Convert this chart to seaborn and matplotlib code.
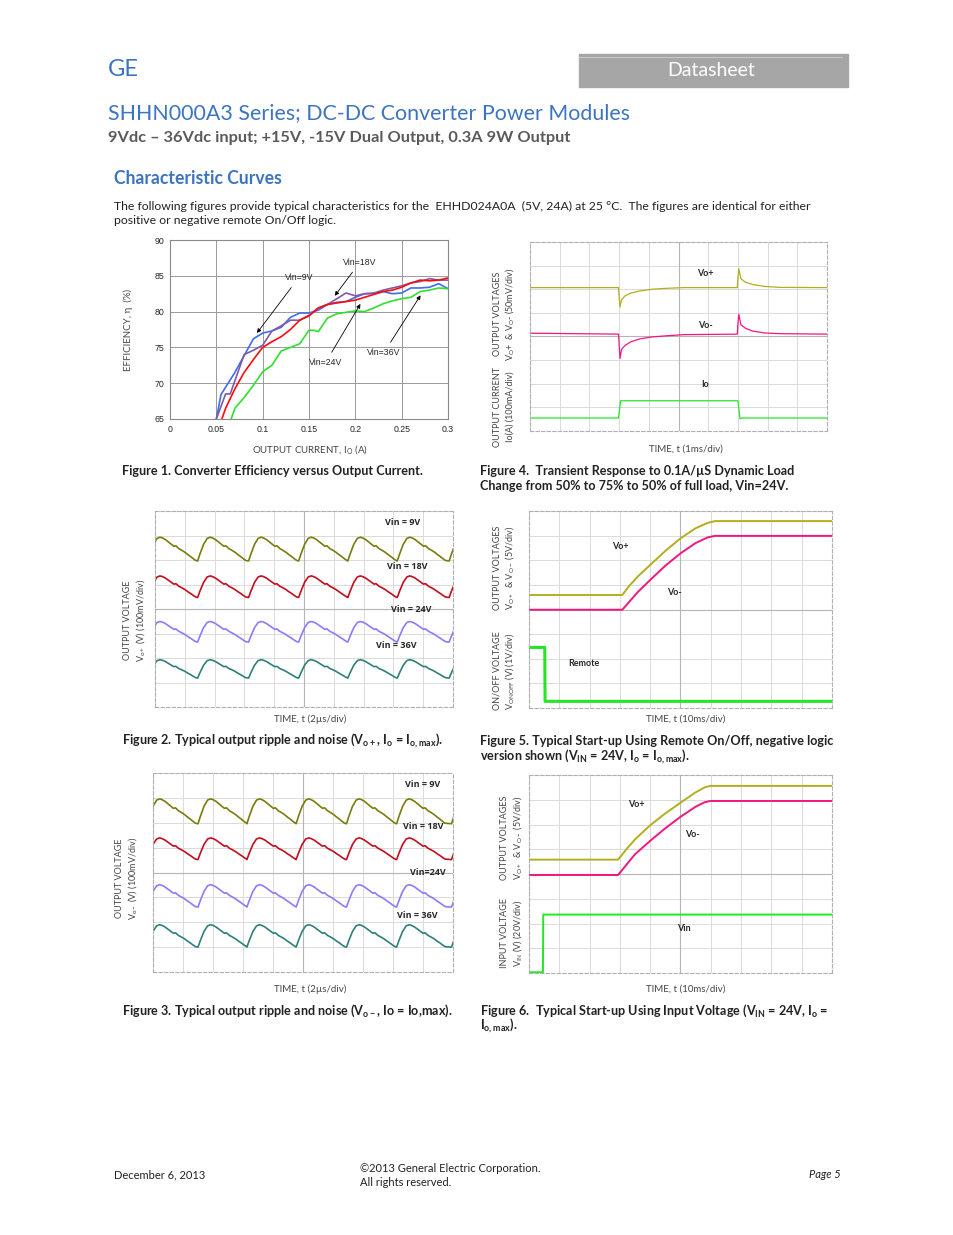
import numpy as np
import pandas as pd
import matplotlib
matplotlib.use('Agg')
import matplotlib.pyplot as plt
import matplotlib.patches as mpatches
import seaborn as sns

W, H = 954, 1235
sns.set_style('white')
plt.rcParams['font.family'] = ['Lato', 'DejaVu Sans']
plt.rcParams['mathtext.default'] = 'regular'

BLUE = '#3d74c0'
DARK = '#222222'
CAP = 9.1

# --- Figure 1: efficiency vs output current ---
eff_9v_x = [0.05, 0.055, 0.07, 0.09, 0.1, 0.11, 0.12, 0.13, 0.14, 0.15, 0.16, 0.17, 0.18, 0.19, 0.2,
            0.21, 0.22, 0.23, 0.24, 0.25, 0.26, 0.27, 0.28, 0.29, 0.3]
eff_9v_y = [65.0, 68.4, 71.5, 76.2, 77.0, 77.3, 77.8, 79.2, 79.8, 79.8, 80.2, 81.0, 81.3, 81.4, 82.0,
            82.5, 82.5, 82.8, 82.5, 82.6, 83.3, 83.3, 83.4, 83.9, 83.2]
eff_18v_x = [0.05, 0.06, 0.065, 0.08, 0.09, 0.1, 0.11, 0.12, 0.13, 0.14, 0.15, 0.16, 0.17, 0.18, 0.19,
             0.2, 0.21, 0.22, 0.23, 0.24, 0.25, 0.26, 0.27, 0.28, 0.29, 0.3]
eff_18v_y = [65.0, 68.5, 68.5, 74.0, 74.6, 75.3, 77.3, 78.0, 78.8, 78.8, 79.5, 80.5, 81.0, 81.8, 82.6,
             82.2, 82.5, 82.6, 83.0, 83.3, 83.6, 84.0, 84.2, 84.6, 84.4, 84.4]
eff_24v_x = [0.056, 0.06, 0.07, 0.08, 0.09, 0.1, 0.11, 0.12, 0.13, 0.14, 0.15, 0.16, 0.17, 0.18, 0.19,
             0.2, 0.21, 0.22, 0.23, 0.24, 0.25, 0.26, 0.27, 0.28, 0.29, 0.3]
eff_24v_y = [65.0, 66.5, 69.2, 71.5, 73.3, 75.0, 75.8, 76.5, 77.5, 78.8, 79.4, 80.5, 81.0, 81.2, 81.4,
             81.6, 82.0, 82.4, 82.8, 83.0, 83.4, 84.0, 84.4, 84.3, 84.4, 84.7]
eff_36v_x = [0.066, 0.07, 0.08, 0.09, 0.1, 0.11, 0.12, 0.13, 0.14, 0.15, 0.155, 0.16, 0.17, 0.18, 0.19,
             0.2, 0.21, 0.22, 0.23, 0.24, 0.25, 0.26, 0.27, 0.28, 0.29, 0.3]
eff_36v_y = [65.0, 66.5, 68.0, 69.7, 71.6, 72.5, 74.5, 75.0, 75.5, 77.4, 77.4, 77.2, 79.1, 79.7, 79.9,
             80.1, 80.0, 80.5, 81.1, 81.5, 81.8, 82.0, 82.8, 83.0, 83.3, 83.2]
eff_colors = {'9V': '#3f6cf0', '18V': '#7e5aa8', '24V': '#ff0a0a', '36V': '#2fe02f'}

# --- Figures 2/3: ripple traces (divisions) ---
ripple_tau = [0, 0.08, 0.2, 0.32, 0.42, 0.5, 0.6, 0.7, 0.8, 0.88, 0.95, 1.05, 1.15, 1.25, 1.35, 1.45, 1.55, 1.62]
ripple_amp = [0, 0.3, 0.7, 0.95, 1.0, 0.97, 0.9, 0.8, 0.7, 0.62, 0.64, 0.52, 0.45, 0.37, 0.27, 0.18, 0.08, 0.02]
ripple2_troughs = [-0.25, 1.43, 3.14, 4.82, 6.47, 8.13, 9.87]
ripple3_troughs = [-0.2, 1.5, 3.13, 4.77, 6.45, 8.12, 9.95]
ripple2_names = ['Vin = 9V', 'Vin = 18V', 'Vin = 24V', 'Vin = 36V']
ripple3_names = ['Vin = 9V', 'Vin = 18V', 'Vin=24V', 'Vin = 36V']
ripple_colors = ['#7b7b0c', '#c40d1c', '#8a7cff', '#2f7f7a']
ripple2_lo = [5.96, 4.47, 2.65, 1.18]
ripple2_hi = [6.93, 5.35, 3.49, 1.93]
ripple3_lo = [5.96, 4.52, 2.61, 1.00]
ripple3_hi = [6.96, 5.39, 3.51, 1.90]

# --- Figure 4: transient response ---
tr_t = [0, 2.98, 3.0, 3.03, 3.08, 3.2, 3.4, 3.7, 4.1, 4.6, 5.2, 6.98, 7.0, 7.03, 7.1, 7.25, 7.5, 7.9, 8.4, 10]
tr_vop = [6.07, 6.07, 5.7, 5.25, 5.55, 5.72, 5.84, 5.93, 6.0, 6.04, 6.07, 6.07, 6.5, 6.87, 6.45, 6.3, 6.2, 6.12, 6.08, 6.07]
tr_von = [4.14, 4.1, 3.7, 3.07, 3.45, 3.62, 3.78, 3.9, 3.98, 4.03, 4.08, 4.1, 4.55, 4.94, 4.5, 4.35, 4.23, 4.15, 4.12, 4.1]
tr_io_t = [0, 2.98, 3.05, 7.0, 7.07, 7.15, 10]
tr_io = [0.55, 0.55, 1.28, 1.28, 0.52, 0.55, 0.55]

# --- Figure 5: start-up via remote on/off ---
su5_t = [0, 3.08, 3.3, 3.6, 4.0, 4.5, 5.0, 5.5, 5.9, 6.14, 10]
su5_vop = [4.59, 4.59, 4.95, 5.35, 5.81, 6.38, 6.89, 7.3, 7.52, 7.59, 7.59]
su5_von = [3.99, 3.99, 4.3, 4.72, 5.2, 5.78, 6.28, 6.7, 6.93, 6.99, 6.99]
remote_t = [0, 0.52, 0.53, 10]
remote_v = [2.46, 2.46, 0.27, 0.27]

# --- Figure 6: start-up via input voltage ---
su6_t = [0, 2.94, 3.2, 3.5, 4.0, 4.5, 5.0, 5.5, 5.8, 5.98, 10]
su6_vop = [4.58, 4.58, 4.98, 5.4, 5.97, 6.45, 6.88, 7.3, 7.5, 7.56, 7.56]
su6_von = [3.96, 3.96, 4.35, 4.8, 5.34, 5.85, 6.31, 6.72, 6.9, 6.95, 6.95]
vin_t = [0, 0.46, 0.47, 10]
vin_v = [0.03, 0.03, 2.36, 2.36]

VOP = '#b3ae1c'
VON = '#f3167f'
GRN = '#25e625'

fig = plt.figure(figsize=(W / 100, H / 100), dpi=100)


def box(l, t, r, b):
    return fig.add_axes([l / W, 1 - b / H, (r - l) / W, (b - t) / H])


def txt(x, y, s, **kw):
    kw.setdefault('va', 'center')
    kw.setdefault('color', DARK)
    fig.text(x / W, 1 - y / H, s, **kw)


def scope(ax):
    ax.set_xlim(0, 10)
    ax.set_ylim(0, 8)
    ax.set_xticks(range(11))
    ax.set_yticks(range(9))
    ax.set_xticklabels([])
    ax.set_yticklabels([])
    ax.tick_params(length=0)
    ax.grid(True, color='#dadada', lw=0.7)
    ax.axvline(5, color='#b5b5b5', lw=0.8)
    ax.axhline(4, color='#b5b5b5', lw=0.8)
    ax.set_xlabel('')
    ax.set_ylabel('')
    for s in ax.spines.values():
        s.set_color('#b0b0b0')
        s.set_linewidth(0.8)
        s.set_linestyle((0, (3, 2)))


def trace(ax, x, y, color, lw=1.1):
    sns.lineplot(x=x, y=y, ax=ax, color=color, lw=lw, estimator=None, sort=False)


# ---------- header ----------
txt(108, 69, 'GE', fontsize=17, color=BLUE, ha='left')
fig.patches.append(mpatches.Rectangle((579 / W, 1 - 87 / H), 269 / W, 33 / H,
                                      transform=fig.transFigure, color='#a6a6a6'))
fig.lines.append(plt.Line2D([579 / W, 842 / W], [1 - 57 / H, 1 - 57 / H],
                            transform=fig.transFigure, color='#c8c8c8', lw=0.8))
txt(711, 70, 'Datasheet', fontsize=14, color='white', ha='center')
txt(108, 113, 'SHHN000A3 Series; DC-DC Converter Power Modules', fontsize=15.4, color=BLUE, ha='left')
txt(108, 138, '9Vdc \u2013 36Vdc input; +15V, -15V Dual Output, 0.3A 9W Output', fontsize=11.8,
    fontweight='bold', color='#5a5a5a', ha='left')
txt(114, 179, 'Characteristic Curves', fontsize=12.7, fontweight='bold', color=BLUE, ha='left')
txt(114, 206, 'The following figures provide typical characteristics for the  EHHD024A0A  (5V, 24A) at 25 \u00b0C.  '
    'The figures are identical for either', fontsize=8.8, ha='left')
txt(114, 221, 'positive or negative remote On/Off logic.', fontsize=8.8, ha='left')

# ---------- Figure 1 ----------
ax1 = box(170, 240, 448, 419)
eff = pd.concat([
    pd.DataFrame({'io': eff_9v_x, 'eff': eff_9v_y, 'vin': '9V'}),
    pd.DataFrame({'io': eff_18v_x, 'eff': eff_18v_y, 'vin': '18V'}),
    pd.DataFrame({'io': eff_24v_x, 'eff': eff_24v_y, 'vin': '24V'}),
    pd.DataFrame({'io': eff_36v_x, 'eff': eff_36v_y, 'vin': '36V'}),
])
sns.lineplot(data=eff, x='io', y='eff', hue='vin', palette=eff_colors, estimator=None, sort=False,
             lw=1.2, legend=False, ax=ax1)
ax1.set_xlim(0, 0.3)
ax1.set_ylim(65, 90)
ax1.set_xticks([0, 0.05, 0.1, 0.15, 0.2, 0.25, 0.3])
ax1.set_xticklabels(['0', '0.05', '0.1', '0.15', '0.2', '0.25', '0.3'])
ax1.set_yticks([65, 70, 75, 80, 85, 90])
ax1.grid(True, color='#9a9a9a', lw=0.7)
ax1.tick_params(length=0, labelsize=6.3, pad=4)
for lab in ax1.get_xticklabels() + ax1.get_yticklabels():
    lab.set_family('Liberation Sans')
for s in ax1.spines.values():
    s.set_color('#8a8a8a')
    s.set_linewidth(0.8)
ax1.set_xlabel('')
ax1.set_ylabel('')
arrow = dict(arrowstyle='-|>', color='black', lw=0.6, mutation_scale=6)
ann_font = dict(fontsize=6.3, family='Liberation Sans', ha='center', va='center')
ax1.annotate('Vin=9V', xy=(0.092, 76.7), xytext=(0.139, 84.75), arrowprops=arrow, **ann_font)
ax1.annotate('Vin=18V', xy=(0.176, 81.9), xytext=(0.205, 86.9), arrowprops=arrow, **ann_font)
ax1.annotate('Vin=24V', xy=(0.207, 81.4), xytext=(0.168, 72.9), arrowprops=arrow, **ann_font)
ax1.annotate('Vin=36V', xy=(0.272, 82.6), xytext=(0.231, 74.3), arrowprops=arrow, **ann_font)
txt(128, 330, 'EFFICIENCY, \u03b7  (%)', fontsize=7, rotation=90, ha='center', color='#444444')
txt(310, 449, 'OUTPUT CURRENT, I$_O$ (A)', fontsize=7, ha='center', color='#444444')
txt(122, 471, 'Figure 1. Converter Efficiency versus Output Current.', fontsize=CAP, fontweight='bold', ha='left')

# ---------- Figure 4 ----------
ax4 = box(530, 242, 827, 431)
scope(ax4)
trace(ax4, tr_t, tr_vop, VOP, 0.9)
trace(ax4, tr_t, tr_von, VON, 0.9)
trace(ax4, tr_io_t, tr_io, GRN, 0.9)
ax4.text(5.9, 6.65, 'Vo+', fontsize=6.5, fontweight='bold', ha='center', va='center')
ax4.text(5.9, 4.45, 'Vo-', fontsize=6.5, fontweight='bold', ha='center', va='center')
ax4.text(5.9, 1.95, 'Io', fontsize=6.5, fontweight='bold', ha='center', va='center')
txt(497, 314, 'OUTPUT VOLTAGES', fontsize=6.5, rotation=90, ha='center', color='#444444')
txt(510, 314, 'V$_{O}$+  & V$_{O}$- (50mV/div)', fontsize=6.5, rotation=90, ha='center', color='#444444')
txt(497, 407, 'OUTPUT CURRENT', fontsize=6.5, rotation=90, ha='center', color='#444444')
txt(510, 407, 'Io(A) (100mA/div)', fontsize=6.5, rotation=90, ha='center', color='#444444')
txt(686, 449, 'TIME, t (1ms/div)', fontsize=7, ha='center', color='#444444')
txt(480, 471, 'Figure 4.  Transient Response to 0.1A/\u00b5S Dynamic Load', fontsize=CAP, fontweight='bold', ha='left')
txt(480, 486, 'Change from 50% to 75% to 50% of full load, Vin=24V.', fontsize=CAP, fontweight='bold', ha='left')


# ---------- Figures 2 and 3 ----------
def ripple_panel(ax, troughs, los, his, names, label_pos):
    scope(ax)
    for k in range(4):
        xs, ys = [], []
        for t0 in troughs:
            for a, b in zip(ripple_tau, ripple_amp):
                xs.append(t0 + a)
                ys.append(los[k] + b * (his[k] - los[k]))
        trace(ax, xs, ys, ripple_colors[k], 1.2)
        ax.text(label_pos[k][0], label_pos[k][1], names[k], fontsize=6.5, fontweight='bold',
                ha='center', va='center', family=['Open Sans', 'DejaVu Sans'])


ax2 = box(155, 511, 453, 707)
ripple_panel(ax2, ripple2_troughs, ripple2_lo, ripple2_hi, ripple2_names,
             [(8.3, 7.55), (8.45, 5.75), (8.6, 3.98), (8.1, 2.5)])
txt(128, 620, 'OUTPUT VOLTAGE', fontsize=6.5, rotation=90, ha='center', color='#444444')
txt(141, 620, 'V$_{o+}$ (V) (100mV/div)', fontsize=6.5, rotation=90, ha='center', color='#444444')
txt(310, 719, 'TIME, t (2\u00b5s/div)', fontsize=7, ha='center', color='#444444')
txt(122, 741, 'Figure 2. Typical output ripple and noise (V$_{o+}$, I$_o$ = I$_{o,max}$).', fontsize=CAP,
    fontweight='bold', ha='left')

ax3 = box(153, 773, 453, 972)
ripple_panel(ax3, ripple3_troughs, ripple3_lo, ripple3_hi, ripple3_names,
             [(9.0, 7.52), (9.0, 5.85), (9.15, 3.98), (8.8, 2.28)])
txt(120, 878, 'OUTPUT VOLTAGE', fontsize=6.5, rotation=90, ha='center', color='#444444')
txt(133, 878, 'V$_{o-}$ (V) (100mV/div)', fontsize=6.5, rotation=90, ha='center', color='#444444')
txt(310, 989, 'TIME, t (2\u00b5s/div)', fontsize=7, ha='center', color='#444444')
txt(122, 1011, 'Figure 3. Typical output ripple and noise (V$_{o-}$, Io = Io,max).', fontsize=CAP,
    fontweight='bold', ha='left')

# ---------- Figure 5 ----------
ax5 = box(529, 511, 832, 708)
scope(ax5)
trace(ax5, su5_t, su5_vop, VOP, 1.4)
trace(ax5, su5_t, su5_von, VON, 1.4)
trace(ax5, remote_t, remote_v, GRN, 2.2)
ax5.text(3.0, 6.57, 'Vo+', fontsize=6.5, fontweight='bold', ha='center', va='center')
ax5.text(4.8, 4.7, 'Vo-', fontsize=6.5, fontweight='bold', ha='center', va='center')
ax5.text(1.8, 1.8, 'Remote', fontsize=6.5, fontweight='bold', ha='center', va='center')
txt(497, 568, 'OUTPUT VOLTAGES', fontsize=6.5, rotation=90, ha='center', color='#444444')
txt(510, 568, 'V$_{O+}$  & V$_{O-}$ (5V/div)', fontsize=6.5, rotation=90, ha='center', color='#444444')
txt(497, 671, 'ON/OFF VOLTAGE', fontsize=6.5, rotation=90, ha='center', color='#444444')
txt(510, 671, 'V$_{ONOFF}$ (V) (1V/div)', fontsize=6.5, rotation=90, ha='center', color='#444444')
txt(686, 719, 'TIME, t (10ms/div)', fontsize=7, ha='center', color='#444444')
txt(480, 741, 'Figure 5. Typical Start-up Using Remote On/Off, negative logic', fontsize=CAP, fontweight='bold', ha='left')
txt(480, 757, 'version shown (V$_{IN}$ = 24V, I$_o$ = I$_{o,max}$).', fontsize=CAP, fontweight='bold', ha='left')

# ---------- Figure 6 ----------
ax6 = box(529, 775, 832, 973)
scope(ax6)
trace(ax6, su6_t, su6_vop, VOP, 1.4)
trace(ax6, su6_t, su6_von, VON, 1.4)
trace(ax6, vin_t, vin_v, GRN, 1.4)
ax6.text(3.55, 6.8, 'Vo+', fontsize=6.5, fontweight='bold', ha='center', va='center')
ax6.text(5.4, 5.6, 'Vo-', fontsize=6.5, fontweight='bold', ha='center', va='center')
ax6.text(5.1, 1.8, 'Vin', fontsize=6.5, fontweight='bold', ha='center', va='center')
txt(505, 838, 'OUTPUT VOLTAGES', fontsize=6.5, rotation=90, ha='center', color='#444444')
txt(518, 838, 'V$_{O+}$  & V$_{O-}$ (5V/div)', fontsize=6.5, rotation=90, ha='center', color='#444444')
txt(505, 933, 'INPUT VOLTAGE', fontsize=6.5, rotation=90, ha='center', color='#444444')
txt(518, 933, 'V$_{IN}$ (V) (20V/div)', fontsize=6.5, rotation=90, ha='center', color='#444444')
txt(686, 989, 'TIME, t (10ms/div)', fontsize=7, ha='center', color='#444444')
txt(480, 1011, 'Figure 6.  Typical Start-up Using Input Voltage (V$_{IN}$ = 24V, I$_o$ =', fontsize=CAP,
    fontweight='bold', ha='left')
txt(480, 1026, 'I$_{o,max}$).', fontsize=CAP, fontweight='bold', ha='left')

# ---------- footer ----------
txt(114, 1175, 'December 6, 2013', fontsize=8, ha='left')
txt(360, 1168, '\u00a92013 General Electric Corporation.', fontsize=8, ha='left')
txt(360, 1182, 'All rights reserved.', fontsize=8, ha='left')
txt(841, 1175, 'Page 5', fontsize=8, style='italic', ha='right')

fig.savefig('out.png', dpi=100, facecolor='white')
